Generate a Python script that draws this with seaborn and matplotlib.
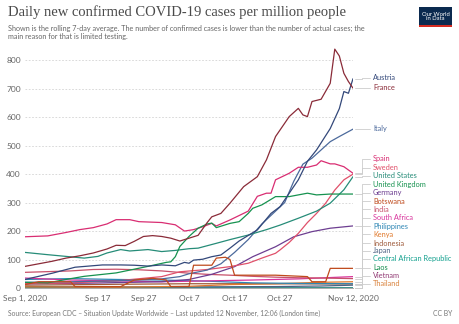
import numpy as np
import pandas as pd
import matplotlib
matplotlib.use("Agg")
import matplotlib.pyplot as plt
import seaborn as sns
from matplotlib.patches import Rectangle
from matplotlib.lines import Line2D

# ---------------- data (day offsets from 2020-09-01, values per million) -------------
start = pd.Timestamp("2020-09-01")

austria_d = [0, 6, 11, 17, 21, 24, 27, 30, 33, 35, 36, 37, 39, 41, 43, 45, 47, 51, 54, 56, 60, 62, 64, 67, 69, 70, 71, 72]
austria_v = [30, 52, 73, 81, 81, 80, 77, 81, 78, 90, 87, 98, 101, 110, 116, 140, 165, 204, 262, 286, 380, 445, 485, 560, 630, 690, 684, 735]

france_d = [0, 3, 6, 9, 12, 15, 18, 20, 22, 24, 26, 28, 30, 32, 34, 36, 38, 40, 41, 43, 45, 48, 51, 53, 55, 58, 60, 61, 62, 63, 65, 67, 68, 69, 70, 71, 72]
france_v = [76, 85, 94, 105, 113, 123, 137, 150, 149, 164, 181, 184, 181, 175, 165, 175, 185, 230, 250, 262, 298, 356, 391, 450, 532, 602, 631, 608, 602, 655, 663, 719, 839, 815, 754, 725, 702]

italy_d = [0, 10, 20, 30, 34, 36, 40, 43, 46, 49, 52, 55, 57, 59, 61, 63, 65, 67, 69, 72]
italy_v = [20, 22, 25, 32, 40, 50, 63, 85, 125, 170, 225, 270, 300, 375, 435, 456, 485, 514, 532, 558]

spain_d = [0, 5, 9, 12, 15, 18, 20, 23, 25, 30, 33, 35, 37, 39, 41, 42, 45, 49, 51, 53, 54, 55, 58, 60, 62, 64, 65, 67, 68, 70, 72]
spain_v = [180, 183, 195, 205, 212, 225, 240, 240, 233, 230, 222, 200, 205, 215, 227, 218, 239, 270, 322, 333, 333, 380, 403, 424, 424, 432, 447, 436, 436, 426, 403]

sweden_d = [0, 10, 20, 30, 34, 40, 45, 49, 52, 55, 56, 58, 60, 62, 64, 66, 68, 70, 72]
sweden_v = [15, 18, 25, 40, 57, 65, 75, 87, 105, 122, 134, 160, 192, 230, 262, 298, 344, 380, 400]

us_d = [0, 5, 9, 13, 16, 18, 21, 23, 27, 30, 33, 36, 38, 42, 45, 49, 53, 56, 60, 64, 67, 70, 72]
us_v = [125, 117, 111, 105, 111, 123, 135, 130, 135, 128, 132, 138, 140, 157, 170, 186, 205, 221, 245, 270, 298, 345, 391]

uk_d = [0, 5, 9, 13, 20, 27, 31, 32, 33, 34, 36, 38, 40, 41, 42, 45, 47, 49, 50, 52, 55, 58, 62, 64, 67, 72]
uk_v = [20, 18, 30, 41, 53, 76, 90, 92, 110, 146, 181, 210, 225, 228, 212, 227, 233, 262, 280, 292, 321, 321, 333, 327, 330, 330]

germany_d = [0, 14, 30, 36, 41, 46, 50, 55, 59, 63, 67, 72]
germany_v = [15, 17, 22, 30, 48, 75, 110, 145, 180, 198, 210, 218]

botswana_d = [0, 3, 10, 11, 21, 24, 28, 31, 32, 36, 37, 41, 42, 44, 45, 46, 55, 62, 63, 66, 67, 72]
botswana_v = [12, 22, 22, 5, 5, 28, 34, 28, 5, 5, 80, 80, 105, 108, 100, 45, 45, 40, 22, 22, 69, 69]

india_d = [0, 10, 15, 20, 25, 30, 36, 40, 45, 50, 55, 60, 65, 72]
india_v = [55, 60, 65, 66, 64, 60, 52, 48, 45, 41, 38, 36, 35, 33]

southafrica_d = [0, 10, 20, 30, 40, 50, 60, 72]
southafrica_v = [35, 28, 25, 22, 25, 28, 32, 40]

philippines_d = [0, 10, 20, 30, 40, 50, 60, 72]
philippines_v = [30, 33, 30, 28, 24, 18, 16, 15]

kenya_d = [0, 20, 36, 45, 55, 65, 72]
kenya_v = [4, 3, 6, 12, 15, 20, 22]

indonesia_d = [0, 20, 36, 50, 72]
indonesia_v = [10, 13, 15, 15, 14]

japan_d = [0, 20, 36, 55, 65, 72]
japan_v = [5, 4, 4, 5, 7, 10]

car_d = [0, 72]
car_v = [0.3, 0.2]
laos_d = [0, 72]
laos_v = [0.0, 0.0]
vietnam_d = [0, 72]
vietnam_v = [0.0, 0.1]
thailand_d = [0, 72]
thailand_v = [0.1, 0.1]

countries = ["Austria", "France", "Italy", "Spain", "Sweden", "United States",
             "United Kingdom", "Germany", "Botswana", "India", "South Africa",
             "Philippines", "Kenya", "Indonesia", "Japan", "Central African Republic",
             "Laos", "Vietnam", "Thailand"]
series = {
    "Austria": (austria_d, austria_v), "France": (france_d, france_v),
    "Italy": (italy_d, italy_v), "Spain": (spain_d, spain_v),
    "Sweden": (sweden_d, sweden_v), "United States": (us_d, us_v),
    "United Kingdom": (uk_d, uk_v), "Germany": (germany_d, germany_v),
    "Botswana": (botswana_d, botswana_v), "India": (india_d, india_v),
    "South Africa": (southafrica_d, southafrica_v),
    "Philippines": (philippines_d, philippines_v), "Kenya": (kenya_d, kenya_v),
    "Indonesia": (indonesia_d, indonesia_v), "Japan": (japan_d, japan_v),
    "Central African Republic": (car_d, car_v), "Laos": (laos_d, laos_v),
    "Vietnam": (vietnam_d, vietnam_v), "Thailand": (thailand_d, thailand_v),
}
colors = {
    "Austria": "#33487a", "France": "#8a2b38", "Italy": "#4c6a9c",
    "Spain": "#d92d72", "Sweden": "#e0506a", "United States": "#268c78",
    "United Kingdom": "#16924f", "Germany": "#6d3e91", "Botswana": "#bf4a1c",
    "India": "#c7506a", "South Africa": "#d8349c", "Philippines": "#2e86b4",
    "Kenya": "#e0782a", "Indonesia": "#9e5a3a", "Japan": "#4d6283",
    "Central African Republic": "#13a08e", "Laos": "#0f8a4a",
    "Vietnam": "#923a74", "Thailand": "#d9823c",
}
# label y positions (pixels from top) for the right-hand labels
label_y = [78, 88, 129, 159, 168, 176, 184, 193, 201, 209, 218, 226, 234, 243, 251, 259, 268, 276, 284]

tick_days = [0, 16, 26, 36, 46, 56, 72]
tick_labels = ["Sep 1, 2020", "Sep 17", "Sep 27", "Oct 7", "Oct 17", "Oct 27", "Nov 12, 2020"]
y_ticks = [0, 100, 200, 300, 400, 500, 600, 700, 800]

# ---------------- build frame ----------------
rows = []
for c in countries:
    d, v = series[c]
    for di, vi in zip(d, v):
        rows.append({"date": start + pd.Timedelta(days=di), "value": vi, "country": c})
df = pd.DataFrame(rows)

sns.set_theme(style="white")
plt.rcParams["font.family"] = ["Lato", "DejaVu Sans"]

W, H = 460, 324
fig = plt.figure(figsize=(W / 100, H / 100), dpi=100)
ax_left, ax_right, ax_bottom_px, ax_top_px = 25, 353, 288, 46
ax = fig.add_axes([ax_left / W, 1 - ax_bottom_px / H,
                   (ax_right - ax_left) / W, (ax_bottom_px - ax_top_px) / H])

order = ["Thailand", "Vietnam", "Laos", "Central African Republic", "Japan", "Indonesia",
         "Kenya", "Philippines", "South Africa", "India", "Germany", "Sweden",
         "Italy", "United States", "Spain", "United Kingdom", "Botswana", "Austria", "France"]
sns.lineplot(data=df, x="date", y="value", hue="country", hue_order=order,
             palette=colors, legend=False, estimator=None, lw=0.9, ax=ax)

ax.set_xlim(start, start + pd.Timedelta(days=72))
ax.set_ylim(0, 850)
ax.set_xlabel("")
ax.set_ylabel("")
ax.set_yticks(y_ticks)
ax.set_yticklabels([str(t) for t in y_ticks])
ax.set_xticks([start + pd.Timedelta(days=d) for d in tick_days])
ax.set_xticklabels(tick_labels)
ax.tick_params(axis="y", length=0, pad=3, labelsize=6, labelcolor="#666666")
ax.tick_params(axis="x", length=3, width=0.6, color="#999999", pad=2,
               labelsize=6, labelcolor="#666666")
ax.yaxis.grid(True, linestyle=(0, (2, 2)), color="#d3d3d3", lw=0.6)
ax.xaxis.grid(False)
for s in ["top", "right", "left"]:
    ax.spines[s].set_visible(False)
ax.spines["bottom"].set_color("#aaaaaa")
ax.spines["bottom"].set_linewidth(0.7)
ax.set_axisbelow(True)

# ---------------- right-hand labels with connectors ----------------
fig.canvas.draw()
to_fig = fig.transFigure.inverted()
end_x = start + pd.Timedelta(days=72)
xnum = matplotlib.dates.date2num(end_x)
for c, ly in zip(countries, label_y):
    d, v = series[c]
    disp = ax.transData.transform((xnum, v[-1]))
    ex, ey = disp[0], disp[1]
    lyd = H - ly
    xs = [ex + 2, 362, 362, 370]
    ys = [ey, ey, lyd, lyd]
    pts = to_fig.transform(np.column_stack([xs, ys]))
    fig.add_artist(Line2D(pts[:, 0], pts[:, 1], transform=fig.transFigure,
                          color="#cccccc", lw=0.6))
    fig.text(373 / W, 1 - ly / H, c, color=colors[c], fontsize=5.3,
             va="center", ha="left")

# ---------------- titles ----------------
fig.text(8 / W, 1 - 12 / H, "Daily new confirmed COVID-19 cases per million people",
         family=["Liberation Serif", "DejaVu Serif"], fontsize=10.5, color="#4a4a4a",
         va="center", ha="left")
fig.text(8 / W, 1 - 28 / H,
         "Shown is the rolling 7-day average. The number of confirmed cases is lower than the number of actual cases; the",
         fontsize=5.25, color="#666666", va="center", ha="left")
fig.text(8 / W, 1 - 37 / H, "main reason for that is limited testing.",
         fontsize=5.25, color="#666666", va="center", ha="left")
fig.text(8 / W, 1 - 313 / H,
         "Source: European CDC – Situation Update Worldwide – Last updated 12 November, 12:06 (London time)",
         fontsize=4.9, color="#777777", va="center", ha="left")
fig.text(452 / W, 1 - 313 / H, "CC BY", fontsize=4.9, color="#777777",
         va="center", ha="right")

# logo
fig.add_artist(Rectangle((419 / W, 1 - 27 / H), 33 / W, 20 / H,
                         transform=fig.transFigure, color="#0b2a4f", lw=0))
fig.add_artist(Rectangle((419 / W, 1 - 27 / H), 33 / W, 2 / H,
                         transform=fig.transFigure, color="#d42b21", lw=0))
fig.text(435.5 / W, 1 - 16.5 / H, "Our World\nin Data", color="white", fontsize=4.2,
         ha="center", va="center", linespacing=1.0)

fig.savefig("out.png", dpi=100)
